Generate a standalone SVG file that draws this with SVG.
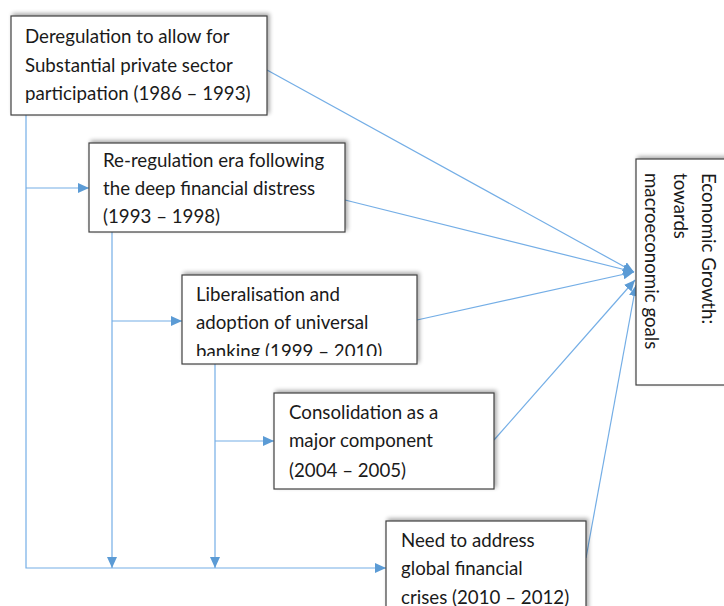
<svg xmlns="http://www.w3.org/2000/svg" width="724" height="606" viewBox="0 0 724 606">
<style>
.box{fill:#ffffff;stroke:#404040;stroke-width:1.2;filter:url(#sh)}
.t{font-family:Lato,"Open Sans","Liberation Sans",sans-serif;font-size:18.7px;fill:#1a1a1a}
.c{fill:none;stroke:#74aee6;stroke-width:1.2}
</style>
<defs>
<filter id="sh" x="-10%" y="-20%" width="120%" height="140%">
<feGaussianBlur in="SourceAlpha" stdDeviation="2"/>
<feOffset dx="2" dy="-2" result="b"/>
<feComponentTransfer><feFuncA type="linear" slope="0.35"/></feComponentTransfer>
<feMerge><feMergeNode/><feMergeNode in="SourceGraphic"/></feMerge>
</filter>
<marker id="ar" markerUnits="userSpaceOnUse" markerWidth="11" markerHeight="10" refX="11" refY="5" orient="auto">
<path d="M0,0 L11,5 L0,10 z" fill="#5b9bd5"/>
</marker>
<clipPath id="clip3"><rect x="182" y="275" width="235" height="81"/></clipPath>
</defs>
<g id="connectors">
<path class="c" d="M26,115 V568 H386" marker-end="url(#ar)"/>
<path class="c" d="M26,188 H89" marker-end="url(#ar)"/>
<path class="c" d="M112,232 V568" marker-end="url(#ar)"/>
<path class="c" d="M112,321 H182" marker-end="url(#ar)"/>
<path class="c" d="M215,364 V568" marker-end="url(#ar)"/>
<path class="c" d="M215,441 H274" marker-end="url(#ar)"/>
<path class="c" d="M267,70 L634,272" marker-end="url(#ar)"/>
<path class="c" d="M345,200 L634,272" marker-end="url(#ar)"/>
<path class="c" d="M417,320 L634,272" marker-end="url(#ar)"/>
<path class="c" d="M494,440 L635,280" marker-end="url(#ar)"/>
<path class="c" d="M586,558 L636,285" marker-end="url(#ar)"/>
</g>
<g id="n1">
<rect class="box" x="11" y="16" width="256" height="99"/>
<text class="t" x="25" y="43">Deregulation to allow for</text>
<text class="t" x="25" y="72">Substantial private sector</text>
<text class="t" x="25" y="100">participation (1986 – 1993)</text>
</g>
<g id="n2">
<rect class="box" x="89" y="143" width="256" height="89"/>
<text class="t" x="103" y="167">Re-regulation era following</text>
<text class="t" x="103" y="195">the deep financial distress</text>
<text class="t" x="103" y="223">(1993 – 1998)</text>
</g>
<g id="n3">
<rect class="box" x="182" y="275" width="235" height="89"/>
<g clip-path="url(#clip3)">
<text class="t" x="196" y="301">Liberalisation and</text>
<text class="t" x="196" y="329">adoption of universal</text>
<text class="t" x="196" y="358">banking (1999 – 2010)</text>
</g>
</g>
<g id="n4">
<rect class="box" x="274" y="393" width="220" height="96"/>
<text class="t" x="289" y="419">Consolidation as a</text>
<text class="t" x="289" y="447">major component</text>
<text class="t" x="289" y="477">(2004 – 2005)</text>
</g>
<g id="n5">
<rect class="box" x="386" y="521" width="200" height="100"/>
<text class="t" x="401" y="547">Need to address</text>
<text class="t" x="401" y="575">global financial</text>
<text class="t" x="401" y="604">crises (2010 – 2012)</text>
</g>
<g id="n6">
<rect class="box" x="636" y="159" width="100" height="226"/>
<text class="t" transform="translate(702,173) rotate(90)">Economic Growth:</text>
<text class="t" transform="translate(674,173) rotate(90)">towards</text>
<text class="t" transform="translate(645,173) rotate(90)">macroeconomic goals</text>
</g>
</svg>
